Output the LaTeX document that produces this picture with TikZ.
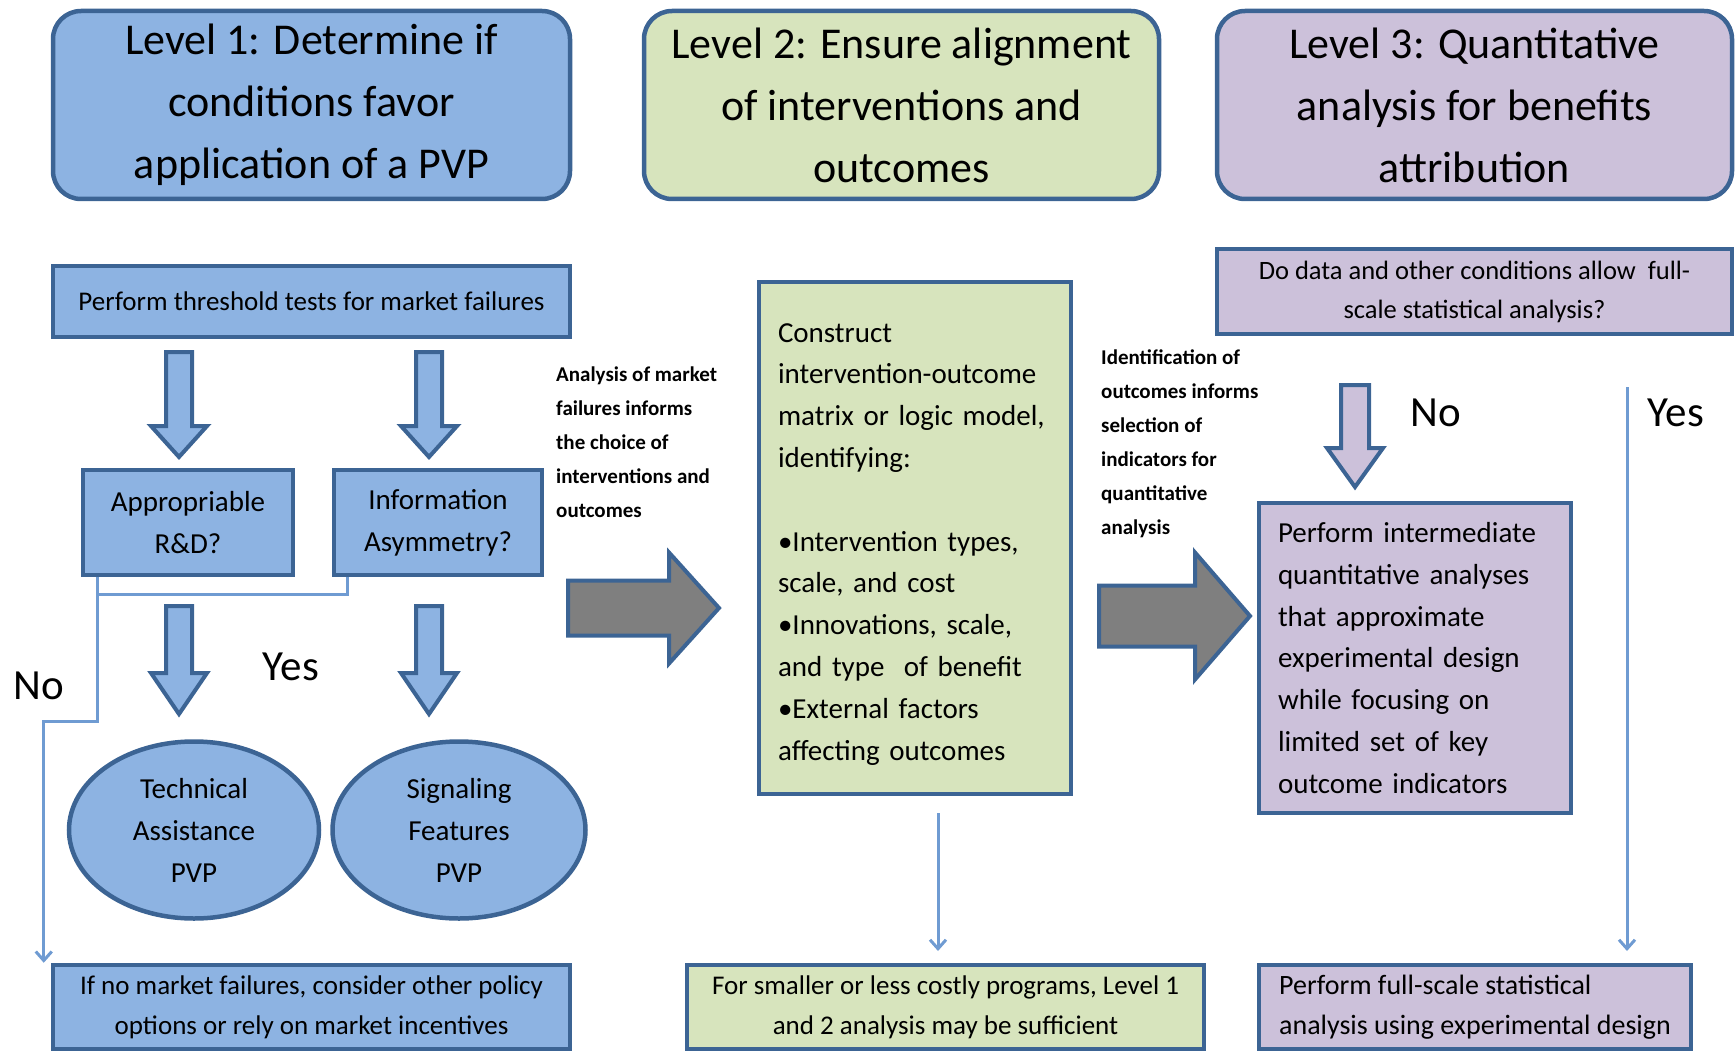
\documentclass[tikz,border=0pt]{standalone}
\usepackage{fontspec}
\setmainfont{Carlito}
\usetikzlibrary{shapes.geometric,arrows.meta,calc}
\definecolor{bfill}{HTML}{8DB3E2}
\definecolor{bline}{HTML}{3C6494}
\definecolor{gfill}{HTML}{D7E4BD}
\definecolor{pfill}{HTML}{CCC1DA}
\definecolor{afill}{HTML}{7F7F7F}
\definecolor{thinc}{HTML}{6F9BD2}
\tikzset{
  box/.style={draw=bline, line width=4.5pt, inner sep=0pt, align=center},
  titlebox/.style={box, rounded corners=28pt, font=\fontsize{44}{62}\selectfont},
  thinline/.style={draw=thinc, line width=3pt},
  thinarrow/.style={thinline, -{Straight Barb[length=9pt,width=16pt,line width=3pt]}},
  blockarrow/.style={draw=bline, line width=4pt, line join=miter},
  lbl/.style={inner sep=0pt, font=\fontsize{43}{50}\selectfont},
  note/.style={inner sep=0pt, anchor=north west, align=left, font=\bfseries\fontsize{21}{34}\selectfont},
}
\newcommand\downblock[7]{%
  \draw[blockarrow,fill=#1] ({#2-#6},#3) -- ({#2+#6},#3) -- ({#2+#6},#4) -- ({#2+#7},#4)
    -- (#2,#5) -- ({#2-#7},#4) -- ({#2-#6},#4) -- cycle;}
\newcommand\rightblock[6]{%
  \draw[blockarrow,fill=afill] (#1,{#4-#5}) -- (#2,{#4-#5}) -- (#2,{#4-#6}) -- (#3,#4)
    -- (#2,{#4+#6}) -- (#2,{#4+#5}) -- (#1,{#4+#5}) -- cycle;}
\begin{document}
\begin{tikzpicture}[x=1pt,y=-1pt]
\useasboundingbox (0,0) rectangle (1735,1051);

% Titles
\node[titlebox, fill=bfill, minimum width=517pt, minimum height=188pt] (l1) at (311.5,105)
  {Level 1: Determine if\\conditions favor\\application of a PVP};
\node[titlebox, fill=gfill, minimum width=515pt, minimum height=188pt] (l2) at (901.5,105)
  {Level 2: Ensure alignment\\of interventions and\\outcomes};
\node[titlebox, fill=pfill, minimum width=515pt, minimum height=188pt] (l3) at (1474.5,105)
  {Level 3: Quantitative\\analysis for benefits\\attribution};

% Level 1 column
\node[box, fill=bfill, minimum width=517pt, minimum height=71pt, font=\fontsize{27}{36}\selectfont] (thr) at (311.5,301.5)
  {Perform threshold tests for market failures};
\downblock{bfill}{179}{352}{426}{457}{13}{28}
\downblock{bfill}{429}{352}{426}{457}{13}{28}
\node[box, fill=bfill, minimum width=210pt, minimum height=105pt, font=\fontsize{29}{42}\selectfont] (app) at (188,522.5)
  {Appropriable\\R\&D?};
\node[box, fill=bfill, minimum width=208pt, minimum height=105pt, font=\fontsize{29}{42}\selectfont] (info) at (438,522.5)
  {Information\\Asymmetry?};
\downblock{bfill}{179}{606}{673}{714}{13}{28}
\downblock{bfill}{429}{606}{673}{714}{13}{28}
\node[lbl] (yes1) at (291,667) {Yes};
\node[lbl] (no1) at (39,686) {No};
\node[box, ellipse, fill=bfill, minimum width=250pt, minimum height=177pt, font=\fontsize{29}{42}\selectfont] (ta) at (194,830)
  {Technical\\Assistance\\PVP};
\node[box, ellipse, fill=bfill, minimum width=253pt, minimum height=177pt, font=\fontsize{29}{42}\selectfont] (sf) at (459,830)
  {Signaling\\Features\\PVP};
\node[box, fill=bfill, minimum width=517pt, minimum height=84pt, font=\fontsize{27}{40}\selectfont] (bl) at (311.5,1007)
  {If no market failures, consider other policy\\options or rely on market incentives};

% connectors level 1
\coordinate (c0) at ([xshift=17pt]app.south west);
\draw[thinline] (c0) -- ++(0,17) -| ([xshift=16pt]info.south west);
\draw[thinarrow] (c0) -- ++(0,144) -| ([xshift=-7pt]bl.north west);

% transition 1
\node[note] (an) at (556,367) {Analysis of market\\failures informs\\the choice of\\interventions and\\outcomes};
\rightblock{568}{669}{719}{608}{27.5}{55.5}

% Level 2 column
\node[box, fill=gfill, minimum width=312pt, minimum height=512pt, text width=274pt, align=left, font=\fontsize{29}{41.8}\selectfont] (mid) at (915,538)
  {\rule{0pt}{31pt}Construct\\intervention-outcome\\matrix or logic model,\\identifying:\\[41.8pt]
   •Intervention types,\\scale, and cost\\•Innovations, scale,\\and type~ of benefit\\•External factors\\affecting outcomes};
\node[box, fill=gfill, minimum width=517pt, minimum height=84pt, font=\fontsize{27}{40}\selectfont] (bm) at (945.5,1007)
  {For smaller or less costly programs, Level 1\\and 2 analysis may be sufficient};
\coordinate (m1) at (938,813);
\coordinate (m2) at (938,951);
\draw[thinarrow] (m1) -- (m2);

% transition 2
\node[note] (idt) at (1101,350) {Identification of\\outcomes informs\\selection of\\indicators for\\quantitative\\analysis};
\rightblock{1099}{1195}{1250}{616}{30.5}{63.5}

% Level 3 column
\node[box, fill=pfill, minimum width=515pt, minimum height=85pt, font=\fontsize{26.5}{39}\selectfont] (q3) at (1474.5,291.5)
  {Do data and other conditions allow~ full-\\scale statistical analysis?};
\downblock{pfill}{1355}{385}{448}{487}{14}{28}
\node[lbl] (no3) at (1436,413) {No};
\node[lbl] (yes3) at (1676,413) {Yes};
\node[box, fill=pfill, minimum width=312pt, minimum height=310pt, text width=274pt, align=left, font=\fontsize{29}{41.7}\selectfont] (inter) at (1415,658)
  {Perform intermediate\\quantitative analyses\\that approximate\\experimental design\\while focusing on\\limited set of key\\outcome indicators};
\node[box, fill=pfill, minimum width=432pt, minimum height=84pt, align=left, font=\fontsize{28}{40}\selectfont] (br) at (1475,1007)
  {Perform full-scale statistical\\analysis using experimental design};
\coordinate (y1) at (1627,387);
\coordinate (y2) at (1627,951);
\draw[thinarrow] (y1) -- (y2);
\end{tikzpicture}
\end{document}
